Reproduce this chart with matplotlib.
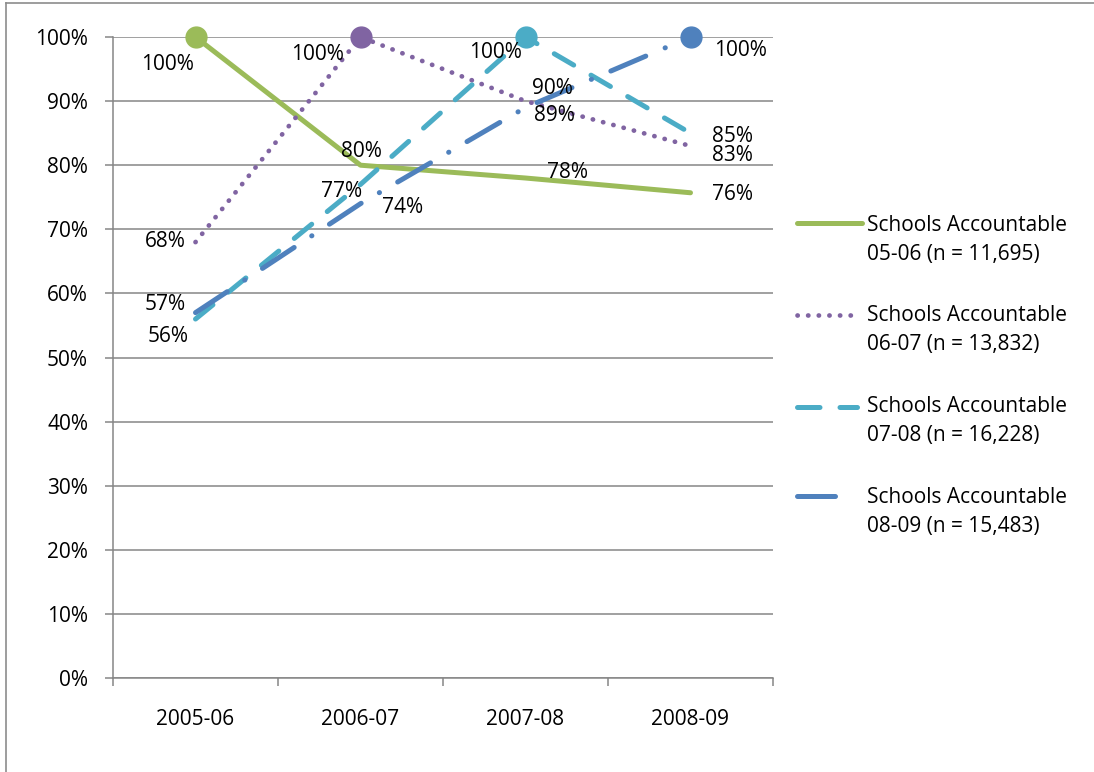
import matplotlib
matplotlib.use("Agg")
import matplotlib.pyplot as plt
from matplotlib.lines import Line2D
import numpy as np

plt.rcParams['font.family'] = ['Open Sans', 'DejaVu Sans']

categories = ["2005-06", "2006-07", "2007-08", "2008-09"]
series_names = [
    "Schools Accountable\n05-06 (n = 11,695)",
    "Schools Accountable\n06-07 (n = 13,832)",
    "Schools Accountable\n07-08 (n = 16,228)",
    "Schools Accountable\n08-09 (n = 15,483)",
]
vals_0506 = [1.00, 0.80, 0.78, 0.757]
vals_0607 = [0.68, 1.00, 0.90, 0.83]
vals_0708 = [0.56, 0.77, 1.00, 0.85]
vals_0809 = [0.57, 0.74, 0.89, 1.00]
yticks = [0, 0.1, 0.2, 0.3, 0.4, 0.5, 0.6, 0.7, 0.8, 0.9, 1.0]
ytick_labels = ["0%", "10%", "20%", "30%", "40%", "50%", "60%", "70%", "80%", "90%", "100%"]

colors = ["#9BBB59", "#8064A2", "#4BACC6", "#4F81BD"]
all_vals = [vals_0506, vals_0607, vals_0708, vals_0809]
marker_idx = [0, 1, 2, 3]
dashes = [None, (0.05, 2.2), (4.5, 4.0), (7.6, 4.2, 0.05, 4.2)]
line_w = [3.6, 3.4, 3.6, 3.6]
# label offsets in pixels (x, y up)
offsets = [
    [(-28, -27), (1, 14), (42, 6), (42, -2)],
    [(-30, 1), (-43, -18), (27, 13), (42, -10)],
    [(-27, -17), (-19, -7), (-30, -15), (42, -3)],
    [(-30, 8), (42, -4), (29, -8), (50, -13)],
]
FS = 15

W, H = 1094, 772
fig = plt.figure(figsize=(W / 100, H / 100), dpi=100)
ax = fig.add_axes([113 / W, 1 - 678 / H, 660 / W, 641 / H])

x = np.arange(len(categories))
for vals, c, mi, d, lwi, offs in zip(all_vals, colors, marker_idx, dashes, line_w, offsets):
    kw = dict(color=c, lw=lwi, marker='o', markersize=15, markevery=[mi],
              clip_on=False, dash_capstyle='round', solid_capstyle='round', zorder=3)
    if d is not None:
        kw['dashes'] = d
    ax.plot(x, vals, **kw)
    for i, v in enumerate(vals):
        ax.annotate(f"{round(v * 100):d}%", xy=(x[i], v), xytext=offs[i],
                    textcoords='offset pixels', ha='center', va='center',
                    fontsize=FS, color='black', zorder=5)

ax.set_xlim(-0.5, 3.5)
ax.set_ylim(0, 1)
ax.set_yticks(yticks)
ax.set_yticklabels(ytick_labels, fontsize=FS)
ax.set_xticks(np.arange(-0.5, 4, 1))
ax.set_xticklabels([])
ax.set_xticks(x, minor=True)
ax.set_xticklabels(categories, minor=True, fontsize=FS)
ax.tick_params(axis='x', which='minor', length=0, pad=22)
ax.tick_params(axis='x', which='major', length=6, width=1.1, color='#868686')
ax.tick_params(axis='y', length=6, width=1.1, color='#868686', pad=12)
ax.grid(axis='y', color='#868686', lw=1.1)
ax.set_axisbelow(True)
for s in ['top', 'right']:
    ax.spines[s].set_visible(False)
for s in ['left', 'bottom']:
    ax.spines[s].set_color('#868686')
    ax.spines[s].set_linewidth(1.1)

# manual legend
handle_y = [223, 315, 407, 496]
handle_x1 = [862, 857, 857, 840]
text_y = [240, 330, 421, 512]
for c, d, lwi, hy, hx1, ty, name in zip(colors, dashes, line_w, handle_y, handle_x1, text_y, series_names):
    kw = dict(color=c, lw=lwi, dash_capstyle='round', solid_capstyle='round',
              transform=fig.transFigure)
    if d is not None:
        kw['dashes'] = d
    fig.add_artist(Line2D([797 / W, hx1 / W], [1 - hy / H, 1 - hy / H], **kw))
    fig.text(867 / W, 1 - ty / H, name, ha='left', va='center', fontsize=FS,
             linespacing=1.5, transform=fig.transFigure)

# figure border
fig.add_artist(Line2D([6 / W, 6 / W], [0, 1 - 3 / H], color='#8c8c8c', lw=1.2,
                      transform=fig.transFigure))
fig.add_artist(Line2D([6 / W, 1], [1 - 3 / H, 1 - 3 / H], color='#8c8c8c', lw=1.2,
                      transform=fig.transFigure))

fig.savefig("out.png", dpi=100)
